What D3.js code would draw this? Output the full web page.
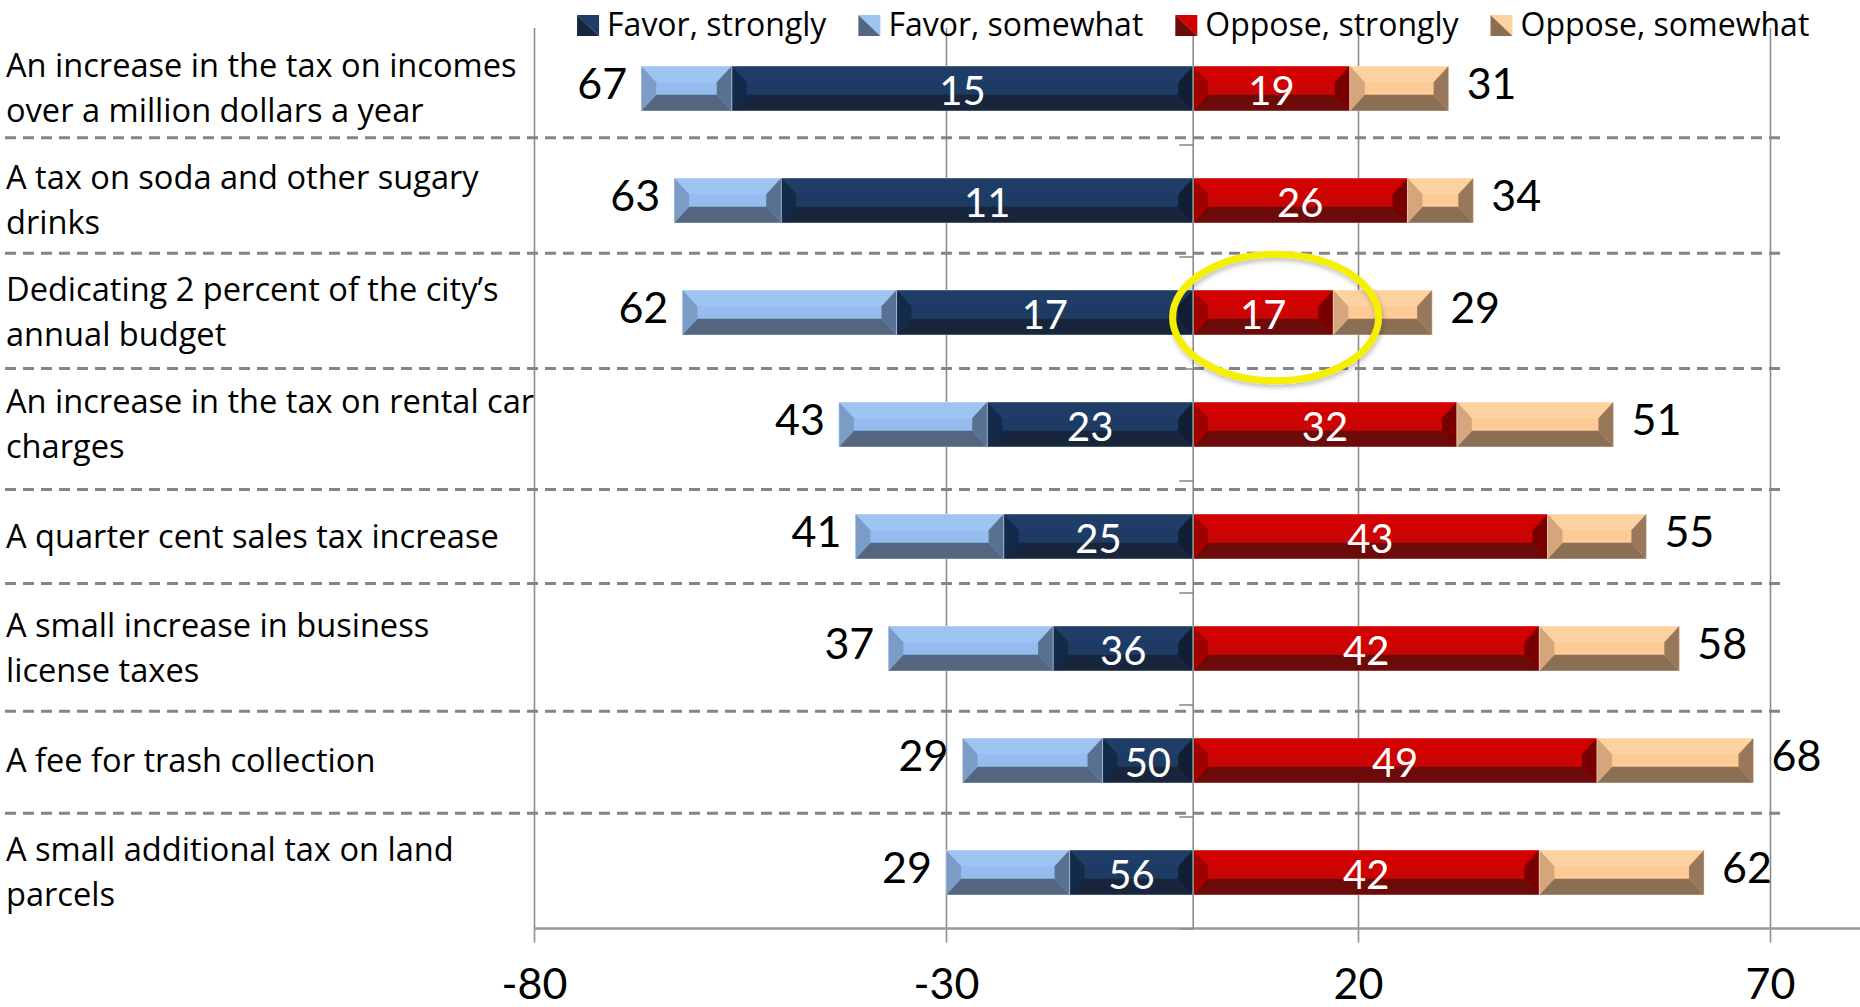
<!DOCTYPE html>
<html><head><meta charset="utf-8">
<script src="https://cdn.jsdelivr.net/npm/d3@7"></script>
<style>
body{margin:0;background:#fff;}
svg{display:block;font-family:Lato,"Open Sans",sans-serif;}
</style>
</head><body>
<svg id="chart" width="1860" height="1007"></svg>
<script>
// ---------------- data ----------------
const categories = [
  "An increase in the tax on incomes\nover a million dollars a year",
  "A tax on soda and other sugary\ndrinks",
  "Dedicating 2 percent of the city\u2019s\nannual budget",
  "An increase in the tax on rental car\ncharges",
  "A quarter cent sales tax increase",
  "A small increase in business\nlicense taxes",
  "A fee for trash collection",
  "A small additional tax on land\nparcels"
];
const seriesNames = ["Favor, strongly", "Favor, somewhat", "Oppose, strongly", "Oppose, somewhat"];
const favorStrong    = [56, 50, 36, 25, 23, 17, 11, 15];
const favorSomewhat  = [11, 13, 26, 18, 18, 20, 17, 15];
const opposeStrong   = [19, 26, 17, 32, 43, 42, 49, 42];
const opposeSomewhat = [12,  8, 12, 19, 12, 17, 19, 20];
// labels as printed on the chart
const favorStrongLabels = [15, 11, 17, 23, 25, 36, 50, 56];
const favorTotalLabels  = [67, 63, 62, 43, 41, 37, 29, 29];
const opposeStrongLabels = [19, 26, 17, 32, 43, 42, 49, 42];
const opposeTotalLabels = [31, 34, 29, 51, 55, 58, 68, 62];
const xTicks = [-80, -30, 20, 70];
// dashed separators, in row-index units
const separatorPositions = [0.94, 1.97, 3.0, 4.08, 4.92, 6.06, 6.97];
// highlight ellipse (row index, centre value, half-width in value units)
const highlight = {row: 2, value: 10, halfWidth: 12.5};

// ---------------- layout ----------------
const W = 1860, H = 1007;
const plotTop = 32.5, plotBottom = 928.5;
const textFont = "'Open Sans', Lato, sans-serif";
const svg = d3.select("#chart");

const defs = svg.append("defs");
defs.append("filter").attr("id", "blur").attr("x", "-5%").attr("y", "-200%").attr("width", "110%").attr("height", "500%")
  .append("feGaussianBlur").attr("stdDeviation", 1.6);
const sh = defs.append("filter").attr("id", "shadow").attr("x", "-20%").attr("y", "-20%").attr("width", "140%").attr("height", "140%");
sh.append("feDropShadow").attr("dx", 1).attr("dy", 3).attr("stdDeviation", 2.5).attr("flood-color", "#000").attr("flood-opacity", 0.25);

const x = d3.scaleLinear().domain([-80, 70]).range([534, 1770]);
const y = d3.scaleBand().domain(d3.range(categories.length)).range([plotTop, plotBottom])
  .paddingInner(0.6).paddingOuter(0.3);
const yIdx = d3.scaleLinear().domain([0, categories.length]).range([plotTop, plotBottom]);
const cy = i => y(i) + y.bandwidth() / 2;

// ---------------- gridlines + x axis ----------------
const gridG = svg.append("g").attr("transform", `translate(0,${plotBottom})`)
  .call(d3.axisBottom(x).tickValues(xTicks).tickSize(-(plotBottom - 28)).tickFormat(""));
gridG.select(".domain").remove();
gridG.selectAll("line").attr("stroke", "#8c8c8c").attr("stroke-width", 1.6);

const xAxisG = svg.append("g").attr("transform", `translate(0,${plotBottom})`)
  .call(d3.axisBottom(x).tickValues(xTicks).tickSize(14).tickPadding(0).tickFormat(d => String(d)));
xAxisG.select(".domain").remove();
xAxisG.selectAll("line").attr("stroke", "#8c8c8c").attr("stroke-width", 1.6);
xAxisG.selectAll("text").attr("dy", null).attr("y", 999 - plotBottom)
  .attr("fill", "#000").attr("font-size", 43).attr("font-family", "Lato");
svg.append("line").attr("x1", x(-80)).attr("x2", W).attr("y1", plotBottom).attr("y2", plotBottom)
  .attr("stroke", "#999").attr("stroke-width", 2.5);

// ---------------- bars ----------------
const rows = categories.map((c, i) => ({
  i, fs: -favorStrong[i], fsw: -favorSomewhat[i], os: opposeStrong[i], osw: opposeSomewhat[i]
}));
const keys = ["fs", "fsw", "os", "osw"];
const stacked = d3.stack().keys(keys).offset(d3.stackOffsetDiverging)(rows);
const palettes = {
  fs:  {top: "#1f3d66", mid: "#1e3b63", bottom: "#17263d", left: "#142a4a", right: "#111e33"},
  fsw: {top: "#9ec4f4", mid: "#94bcef", bottom: "#53657f", left: "#7a9cc7", right: "#587091"},
  os:  {top: "#d30000", mid: "#cb0404", bottom: "#6d0b0b", left: "#a20000", right: "#780000"},
  osw: {top: "#fed29f", mid: "#fdca96", bottom: "#8b6f55", left: "#d5a67b", right: "#98775a"}
};

function bevel(g, xa, xb, y0, h, p) {
  const y1 = y0 + h;
  const b = Math.min(15, (xb - xa) / 2);
  const bt = h * 0.36, bb = h * 0.36;
  const pts = a => a.map(q => q.join(",")).join(" ");
  g.append("rect").attr("x", xa).attr("y", y0).attr("width", xb - xa).attr("height", h).attr("fill", p.mid);
  g.append("polygon").attr("points", pts([[xa, y0], [xb, y0], [xb - b, y0 + bt], [xa + b, y0 + bt]])).attr("fill", p.top);
  g.append("polygon").attr("points", pts([[xa, y1], [xb, y1], [xb - b, y1 - bb], [xa + b, y1 - bb]])).attr("fill", p.bottom);
  g.append("polygon").attr("points", pts([[xa, y0], [xa + b, y0 + bt], [xa + b, y1 - bb], [xa, y1]])).attr("fill", p.left);
  g.append("polygon").attr("points", pts([[xb, y0], [xb - b, y0 + bt], [xb - b, y1 - bb], [xb, y1]])).attr("fill", p.right);
  g.append("rect").attr("x", xa).attr("y", y0).attr("width", xb - xa).attr("height", h)
    .attr("fill", "none").attr("stroke", "#ffffff").attr("stroke-opacity", 0.35).attr("stroke-width", 1);
}

const barsG = svg.append("g");
stacked.forEach(s => {
  s.forEach(d => {
    const v0 = Math.min(d[0], d[1]), v1 = Math.max(d[0], d[1]);
    bevel(barsG, x(v0), x(v1), y(d.data.i), y.bandwidth(), palettes[s.key]);
  });
});

// ---------------- category axis (at zero) ----------------
const catAxis = svg.append("g").attr("transform", `translate(${x(0)},0)`)
  .call(d3.axisLeft(yIdx).tickValues(d3.range(1, categories.length + 1)).tickSize(14).tickFormat(""));
catAxis.select(".domain").attr("stroke", "#8c8c8c").attr("stroke-width", 1.6)
  .attr("d", `M0,${plotTop - 4}V${plotBottom}`);
catAxis.selectAll("line").attr("stroke", "#8c8c8c").attr("stroke-width", 1.6);

// ---------------- labels ----------------
const labG = svg.append("g").attr("font-family", "Lato");
categories.forEach((c, i) => {
  const f = favorStrong[i] + favorSomewhat[i];
  const o = opposeStrong[i] + opposeSomewhat[i];
  labG.append("text").attr("x", x(-favorStrong[i] / 2)).attr("y", cy(i) + 16.5)
    .attr("text-anchor", "middle").attr("fill", "#fff").attr("font-size", 40).text(favorStrongLabels[i]);
  labG.append("text").attr("x", x(opposeStrong[i] / 2)).attr("y", cy(i) + 16.5)
    .attr("text-anchor", "middle").attr("fill", "#fff").attr("font-size", 40).text(opposeStrongLabels[i]);
  labG.append("text").attr("x", x(-f) - 14).attr("y", cy(i) + 10.5)
    .attr("text-anchor", "end").attr("fill", "#000").attr("font-size", 43).text(favorTotalLabels[i]);
  labG.append("text").attr("x", x(o) + 18).attr("y", cy(i) + 10.5)
    .attr("text-anchor", "start").attr("fill", "#000").attr("font-size", 43).text(opposeTotalLabels[i]);

  const lines = c.split("\n");
  const lh = 45;
  const t = labG.append("text").attr("font-family", textFont).attr("font-size", 32.6).attr("fill", "#000");
  lines.forEach((ln, k) => {
    t.append("tspan").attr("x", 6)
      .attr("y", cy(i) + 11 + (k - (lines.length - 1) / 2) * lh).text(ln);
  });
});

// ---------------- dashed separators ----------------
const sepG = svg.append("g");
separatorPositions.forEach(p => {
  const yy = yIdx(p);
  sepG.append("line").attr("x1", 5).attr("x2", 1787).attr("y1", yy + 5).attr("y2", yy + 5)
    .attr("stroke", "#cfcfcf").attr("stroke-width", 4).attr("stroke-dasharray", "11,7").attr("filter", "url(#blur)");
  sepG.append("line").attr("x1", 5).attr("x2", 1787).attr("y1", yy).attr("y2", yy)
    .attr("stroke", "#858585").attr("stroke-width", 3).attr("stroke-dasharray", "11,7");
});

// ---------------- highlight ellipse ----------------
svg.append("ellipse")
  .attr("cx", x(highlight.value))
  .attr("cy", cy(highlight.row) + 5)
  .attr("rx", x(highlight.value + highlight.halfWidth) - x(highlight.value))
  .attr("ry", y.step() * 0.565)
  .attr("fill", "none").attr("stroke", "#f4f000").attr("stroke-width", 7)
  .attr("filter", "url(#shadow)");

// ---------------- legend ----------------
const legG = svg.append("g").attr("font-family", textFont).attr("font-size", 32);
let lx = 0;
const items = [];
seriesNames.forEach((n, k) => {
  const p = palettes[keys[k]];
  const it = legG.append("g");
  it.append("polygon").attr("points", "0,0 22,0 22,21").attr("fill", p.top);
  it.append("polygon").attr("points", "0,0 0,21 22,21").attr("fill", p.bottom);
  const tx = it.append("text").attr("x", 30).attr("y", 21).attr("fill", "#000").text(n);
  const w = 30 + tx.node().getComputedTextLength();
  items.push({it, lx});
  lx += w + 32;
});
const legW = lx - 32;
const legStart = x(0) - legW / 2;
items.forEach(d => d.it.attr("transform", `translate(${legStart + d.lx},15)`));
</script>
</body></html>
